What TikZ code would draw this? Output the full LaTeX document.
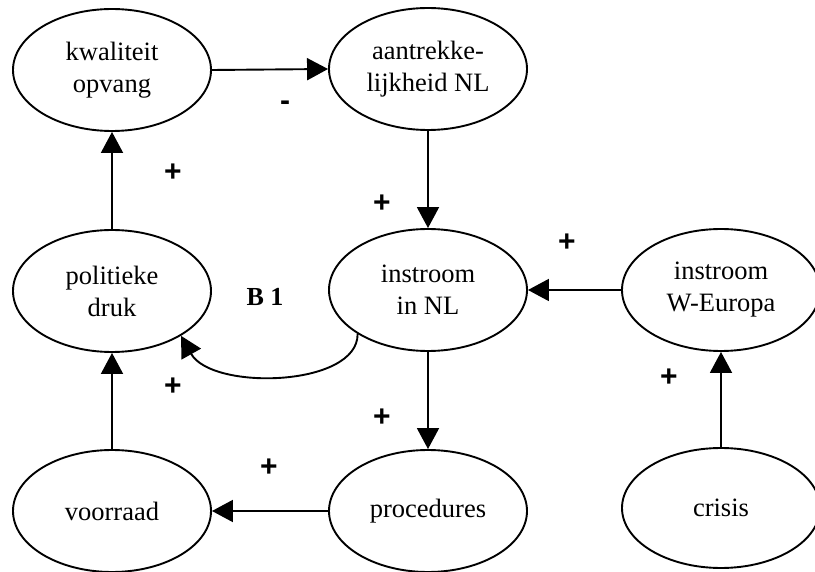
\documentclass[tikz,border=0pt]{standalone}
\usepackage{fontspec}
\setmainfont{Liberation Serif}
\newfontfamily\signfont{Liberation Sans}
\usetikzlibrary{shapes.geometric,arrows.meta}

\tikzset{
  factor/.style={ellipse, draw, line width=1.9pt, minimum width=198pt,
    minimum height=122pt, inner sep=0pt, align=center,
    font=\fontsize{26.5}{32}\selectfont},
  link/.style={line width=1.9pt, -{Triangle[length=21pt,width=22pt]}},
  sign/.style={inner sep=0pt, font=\signfont\bfseries\fontsize{30}{34}\selectfont},
  looplabel/.style={inner sep=0pt, font=\bfseries\fontsize{26}{30}\selectfont}
}

\begin{document}
\begin{tikzpicture}[x=1pt,y=-1pt]
  \useasboundingbox (0,0) rectangle (815,572);

  % factors
  \node[factor] (kwal)   at (112,70)  {kwaliteit\\opvang};
  \node[factor] (aant)   at (428,69)  {aantrekke-\\lijkheid NL};
  \node[factor] (pol)    at (112,291) {politieke\\druk};
  \node[factor] (innl)   at (428,290) {instroom\\in NL};
  \node[factor] (inwe)   at (721,290) {instroom\\W-Europa};
  \node[factor] (voor)   at (112,511) {voorraad};
  \node[factor] (proc)   at (428,511) {procedures};
  \node[factor, minimum height=120pt] (crisis) at (721,508) {crisis};

  % causal links
  \draw[link] (kwal.east)  -- (aant.west);
  \draw[link] (aant.south) -- (innl.north);
  \draw[link] (pol.north)  -- (kwal.south);
  \draw[link] (inwe.west)  -- (innl.east);
  \draw[link] (innl.south) -- (proc.north);
  \draw[link] (proc.west)  -- (voor.east);
  \draw[link] (voor.north) -- (pol.south);
  \draw[link] (crisis.north) -- (inwe.south);
  \draw[link] (innl.212) .. controls (358,387) and (212,391) .. (pol.327);

  % polarities and loop name
  \node[sign] (s1) at (285,106) {-};
  \node[sign] (s2) at (173,173) {+};
  \node[sign] (s3) at (382,204) {+};
  \node[sign] (s4) at (567,243) {+};
  \node[sign] (s5) at (173,387) {+};
  \node[sign] (s6) at (382,418) {+};
  \node[sign] (s7) at (269,468) {+};
  \node[sign] (s8) at (669,378) {+};
  \node[looplabel] (b1) at (265,297) {B 1};
\end{tikzpicture}
\end{document}
